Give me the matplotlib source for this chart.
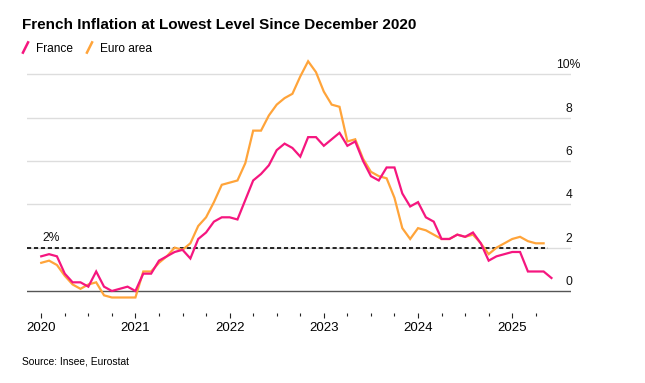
import numpy as np
import matplotlib
matplotlib.use("Agg")
from matplotlib import pyplot as plt
from matplotlib.lines import Line2D

plt.rcParams['font.family'] = ['Liberation Sans Narrow', 'Liberation Sans', 'DejaVu Sans']
plt.rcParams['lines.scale_dashes'] = False

# monthly YoY HICP, Dec 2019 .. latest
france = [1.6,
          1.7, 1.6, 0.8, 0.4, 0.4, 0.2, 0.9, 0.2, 0.0, 0.1, 0.2, 0.0,
          0.8, 0.8, 1.4, 1.6, 1.8, 1.9, 1.5, 2.4, 2.7, 3.2, 3.4, 3.4,
          3.3, 4.2, 5.1, 5.4, 5.8, 6.5, 6.8, 6.6, 6.2, 7.1, 7.1, 6.7,
          7.0, 7.3, 6.7, 6.9, 6.0, 5.3, 5.1, 5.7, 5.7, 4.5, 3.9, 4.1,
          3.4, 3.2, 2.4, 2.4, 2.6, 2.5, 2.7, 2.2, 1.4, 1.6, 1.7, 1.8,
          1.8, 0.9, 0.9, 0.9, 0.6]
euro_area = [1.3,
             1.4, 1.2, 0.7, 0.3, 0.1, 0.3, 0.4, -0.2, -0.3, -0.3, -0.3, -0.3,
             0.9, 0.9, 1.3, 1.6, 2.0, 1.9, 2.2, 3.0, 3.4, 4.1, 4.9, 5.0,
             5.1, 5.9, 7.4, 7.4, 8.1, 8.6, 8.9, 9.1, 9.9, 10.6, 10.1, 9.2,
             8.6, 8.5, 6.9, 7.0, 6.1, 5.5, 5.3, 5.2, 4.3, 2.9, 2.4, 2.9,
             2.8, 2.6, 2.4, 2.4, 2.6, 2.5, 2.6, 2.2, 1.7, 2.0, 2.2, 2.4,
             2.5, 2.3, 2.2, 2.2]
years = ['2020', '2021', '2022', '2023', '2024', '2025']
y_ticks = [0, 2, 4, 6, 8, 10]
y_labels = ['0', '2', '4', '6', '8', '10%']
target = 2

PINK = '#f5167f'
ORANGE = '#ffa43a'

fig = plt.figure(figsize=(6.45, 3.83), dpi=100)
ax = fig.add_axes([0.0414, 0.1828, 0.8434, 0.6736])

m_fr = np.arange(len(france))
m_ea = np.arange(len(euro_area))

for v, lab in zip(y_ticks, y_labels):
    ax.axhline(v, color='#555555' if v == 0 else '#dddddd', lw=1.0, zorder=1)
    ax.annotate(lab, xy=(67.2, v), xytext=(0, 6.5),
                textcoords='offset points', ha='center', va='center',
                fontsize=8.7, color='#111111')

ax.hlines(target, -1.85, len(euro_area) - 0.5, colors='black', lw=1.2,
          linestyles=(0, (3, 2)), zorder=2)
ax.annotate(f'{target}%', xy=(0.1, target), xytext=(0, 7), textcoords='offset points',
            ha='left', va='center', fontsize=8.7, color='#111111')

ax.plot(m_ea, euro_area, color=ORANGE, lw=1.6, zorder=3, solid_joinstyle='miter')
ax.plot(m_fr, france, color=PINK, lw=1.6, zorder=4, solid_joinstyle='miter')

ax.set_xlim(-1.85, 67.45)
ax.set_ylim(-1.015, 10.89)
ax.set_xticks(np.arange(0, 61, 12))
ax.set_xticklabels(years)
ax.set_xticks(np.arange(0, 66, 3), minor=True)
ax.tick_params(axis='x', which='major', length=3.8, width=0.8, pad=2.5,
               labelsize=9.5, color='#222222')
ax.tick_params(axis='x', which='minor', length=2.2, width=0.8, color='#222222')
ax.set_yticks([])
for s in ax.spines.values():
    s.set_visible(False)

fig.text(0.034, 0.924, 'French Inflation at Lowest Level Since December 2020',
         fontsize=11, fontweight='bold', va='baseline', ha='left')

slash = [(-0.5, -1), (0.5, 1)]
handles = [Line2D([], [], color=PINK, marker=slash, markersize=9, mew=1.8, ls='none'),
           Line2D([], [], color=ORANGE, marker=slash, markersize=9, mew=1.8, ls='none')]
fig.legend(handles, ['France', 'Euro area'], loc='center left',
           bbox_to_anchor=(0.022, 0.873), ncol=2, frameon=False, fontsize=8.6,
           handlelength=1.0, handletextpad=0.4, columnspacing=0.9, borderaxespad=0)

fig.text(0.034, 0.047, 'Source: Insee, Eurostat', fontsize=7.4, va='baseline', ha='left')

fig.savefig('out.png', dpi=100)
